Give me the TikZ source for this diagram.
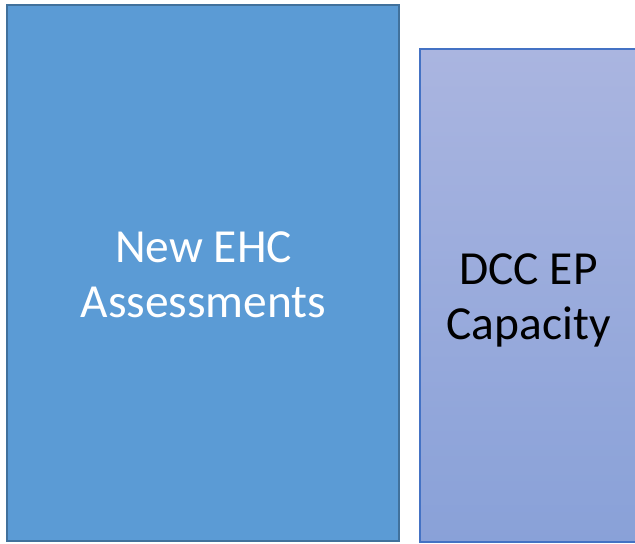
\documentclass[tikz,border=0pt]{standalone}
\usepackage{fontspec}
\setmainfont{Carlito}
\definecolor{leftfill}{RGB}{91,155,213}
\definecolor{leftline}{RGB}{65,113,156}
\definecolor{righttop}{RGB}{170,181,224}
\definecolor{rightbot}{RGB}{137,161,216}
\definecolor{rightline}{RGB}{68,114,196}
\tikzset{
  bigtext/.style={align=center, inner sep=0pt, font=\fontsize{35.6}{41.25}\selectfont},
}
\begin{document}
\begin{tikzpicture}[x=0.75pt,y=-0.75pt]
\useasboundingbox (0,0) rectangle (635,543);
\begin{scope}
\clip (0,0) rectangle (635,543);
\draw[leftline, line width=2pt, fill=leftfill] (7,5) rectangle (399,541);
\shade[top color=righttop, bottom color=rightbot] (420,49) rectangle (637,542);
\draw[rightline, line width=1pt] (420,49) rectangle (637,542);
\end{scope}
\node[bigtext, text=white] (ehc) at (203.5,274.5) {New EHC\\Assessments};
\node[bigtext, text=black] (dcc) at (528.5,300.8) {DCC EP\\Capacity};
\end{tikzpicture}
\end{document}
